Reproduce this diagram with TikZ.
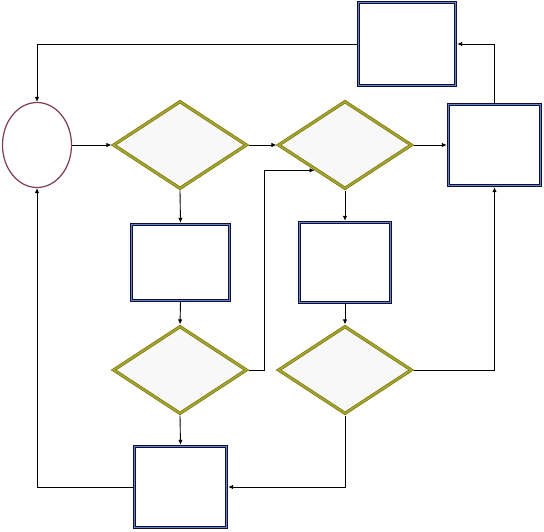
\documentclass[tikz,border=0pt]{standalone}
\usetikzlibrary{shapes.geometric,arrows.meta,calc}
\definecolor{bandblue}{RGB}{102,130,210}
\definecolor{edgedark}{RGB}{16,16,48}
\definecolor{oliveband}{RGB}{165,165,35}
\definecolor{oliveedge}{RGB}{110,110,20}
\definecolor{diafill}{RGB}{248,248,248}
\definecolor{ellred}{RGB}{130,60,80}
\tikzset{
  procbox/.style={rectangle, draw=edgedark, line width=0.8pt, double=bandblue,
    double distance=1.8pt, fill=white, inner sep=0pt, outer sep=1.7pt},
  decbox/.style={diamond, draw=oliveedge, line width=0.6pt, double=oliveband,
    double distance=2pt, fill=diafill, inner sep=0pt, outer sep=1.6pt,
    minimum width=134pt, minimum height=88pt},
  startbox/.style={ellipse, draw=ellred, line width=1.2pt, fill=white,
    inner sep=0pt, minimum width=69pt, minimum height=85pt},
  arr/.style={draw=black, line width=0.9pt, -{Latex[length=5pt,width=4.5pt]}}
}
\begin{document}
\begin{tikzpicture}[x=1pt,y=-1pt]
\useasboundingbox (0,0) rectangle (544,531);
% nodes
\node[startbox] (E) at (37,145) {};
\node[decbox] (D1) at (180,145) {};
\node[decbox] (D2) at (345,145) {};
\node[decbox] (D3) at (180,370) {};
\node[decbox] (D4) at (345,370) {};
\node[procbox, minimum width=97pt, minimum height=83pt] (T) at (407,44) {};
\node[procbox, minimum width=92pt, minimum height=81pt] (R) at (494.5,145) {};
\node[procbox, minimum width=98pt, minimum height=76pt] (B2) at (180.5,262.5) {};
\node[procbox, minimum width=91pt, minimum height=80pt] (B3) at (345,262.5) {};
\node[procbox, minimum width=92pt, minimum height=81pt] (B4) at (180.5,487) {};
\coordinate (d2in) at ($(D2.west)!0.556!(D2.south)$);
% connectors
\draw[arr] (T.west) -| (E.north);
\draw[arr] (E.east) -- (D1.west);
\draw[arr] (D1.east) -- (D2.west);
\draw[arr] (D2.east) -- (R.west);
\draw[arr] (R.north) |- (T.east);
\draw[arr] (D1.south) -- (B2.north);
\draw[arr] (B2.south) -- (D3.north);
\draw[arr] (D3.east) -- ++(16,0) |- (d2in);
\draw[arr] (D2.south) -- (B3.north);
\draw[arr] (B3.south) -- (D4.north);
\draw[arr] (D4.east) -| (R.south);
\draw[arr] (D4.south) |- (B4.east);
\draw[arr] (D3.south) -- (B4.north);
\draw[arr] (B4.west) -| (E.south);
\end{tikzpicture}
\end{document}
